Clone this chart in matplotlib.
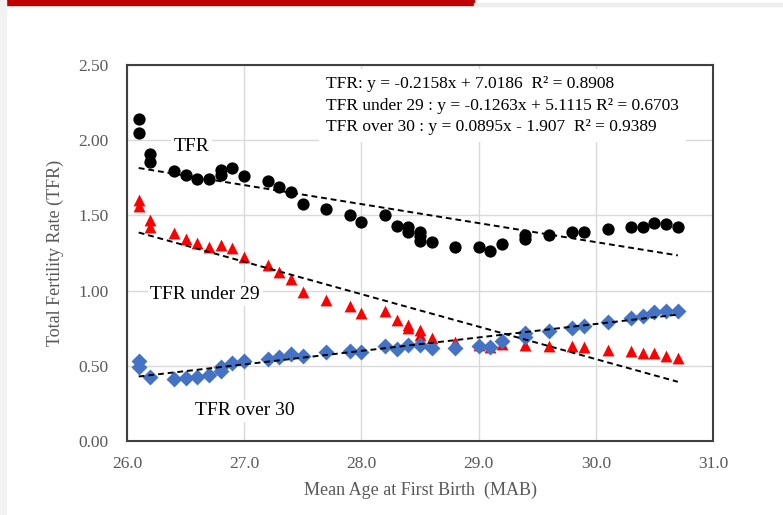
import matplotlib
matplotlib.use("Agg")
import matplotlib.pyplot as plt
from matplotlib.patches import Rectangle
import numpy as np

plt.rcParams["font.family"] = ["Liberation Serif", "DejaVu Serif"]

# ---- data ----
tfr_x = [26.1, 26.1, 26.2, 26.2, 26.4, 26.5, 26.6, 26.7, 26.8, 26.8, 26.9, 27.0,
         27.2, 27.3, 27.4, 27.5, 27.7, 27.9, 28.0, 28.2, 28.3, 28.4, 28.4,
         28.5, 28.5, 28.5, 28.6, 28.8, 29.0, 29.1, 29.2, 29.4, 29.4, 29.6,
         29.8, 29.9, 30.1, 30.3, 30.4, 30.5, 30.6, 30.7]
tfr_y = [2.14, 2.05, 1.91, 1.855, 1.795, 1.77, 1.74, 1.74, 1.80, 1.77, 1.815, 1.76,
         1.73, 1.69, 1.655, 1.575, 1.54, 1.50, 1.455, 1.50, 1.43, 1.42, 1.39,
         1.39, 1.36, 1.33, 1.32, 1.29, 1.29, 1.26, 1.31, 1.37, 1.34, 1.37,
         1.39, 1.39, 1.41, 1.42, 1.42, 1.45, 1.44, 1.42]

u29_x = [26.1, 26.1, 26.2, 26.2, 26.4, 26.5, 26.6, 26.7, 26.8, 26.9, 27.0,
         27.2, 27.3, 27.4, 27.5, 27.7, 27.9, 28.0, 28.2, 28.3, 28.4, 28.4,
         28.5, 28.5, 28.6, 28.8, 29.0, 29.1, 29.2, 29.4, 29.6, 29.8, 29.9,
         30.1, 30.3, 30.4, 30.5, 30.6, 30.7]
u29_y = [1.60, 1.56, 1.47, 1.42, 1.38, 1.345, 1.315, 1.29, 1.30, 1.285, 1.225,
         1.17, 1.125, 1.075, 0.99, 0.94, 0.90, 0.85, 0.865, 0.805, 0.77, 0.75,
         0.74, 0.705, 0.685, 0.66, 0.64, 0.625, 0.645, 0.64, 0.63, 0.63, 0.625,
         0.605, 0.60, 0.585, 0.585, 0.565, 0.55]

o30_x = [26.1, 26.1, 26.2, 26.4, 26.5, 26.6, 26.7, 26.8, 26.8, 26.9, 27.0,
         27.2, 27.3, 27.4, 27.5, 27.7, 27.9, 28.0, 28.2, 28.3, 28.4, 28.5,
         28.6, 28.8, 29.0, 29.1, 29.2, 29.4, 29.4, 29.6, 29.8, 29.9, 30.1,
         30.3, 30.4, 30.5, 30.6, 30.7]
o30_y = [0.53, 0.49, 0.425, 0.41, 0.42, 0.425, 0.44, 0.49, 0.465, 0.52, 0.53,
         0.545, 0.56, 0.58, 0.565, 0.59, 0.60, 0.59, 0.63, 0.61, 0.64, 0.64,
         0.62, 0.62, 0.63, 0.625, 0.665, 0.72, 0.69, 0.73, 0.75, 0.765, 0.79,
         0.815, 0.83, 0.86, 0.865, 0.865]

# trend lines as drawn (coefficients from the equation box)
trend_slope = {"TFR": -0.1263, "under": -0.2158, "over": 0.0895}
trend_icpt = {"TFR": 5.1115, "under": 7.0186, "over": -1.907}
trend_span = [26.1, 30.7]

eq_lines = [
    "TFR: y = -0.2158x + 7.0186  R\u00b2 = 0.8908",
    "TFR under 29 : y = -0.1263x + 5.1115 R\u00b2 = 0.6703",
    "TFR over 30 : y = 0.0895x - 1.907  R\u00b2 = 0.9389",
]
x_ticks = [26.0, 27.0, 28.0, 29.0, 30.0, 31.0]
y_ticks = [0.0, 0.5, 1.0, 1.5, 2.0, 2.5]

fig = plt.figure(figsize=(7.83, 5.15), dpi=100)
ax = fig.add_axes([127 / 783, 1 - 441 / 515, 586 / 783, 376 / 515])

# slide decoration
fig.patches.append(Rectangle((0, 1 - 5 / 515), 474 / 783, 5 / 515,
                             transform=fig.transFigure, color="#c00000", zorder=0))
fig.patches.append(Rectangle((474 / 783, 1 - 6 / 515), 309 / 783, 3 / 515,
                             transform=fig.transFigure, color="#eeeeee", zorder=0))
fig.patches.append(Rectangle((0, 0), 6 / 783, 1,
                             transform=fig.transFigure, color="#f2f2f2", zorder=0))

ax.scatter(tfr_x, tfr_y, s=78, marker="o", color="black", zorder=3, linewidths=0)
ax.scatter(u29_x, u29_y, s=72, marker="^", color="#ff0000", zorder=3, linewidths=0)
ax.scatter(o30_x, o30_y, s=66, marker="D", color="#4472c4", zorder=4, linewidths=0)

xs = np.array(trend_span)
for k in ["TFR", "under", "over"]:
    ax.plot(xs, trend_slope[k] * xs + trend_icpt[k], ls=(0, (3, 2)),
            color="black", lw=1.4, zorder=5)

ax.set_xlim(26.0, 31.0)
ax.set_ylim(0.0, 2.5)
ax.set_xticks(x_ticks)
ax.set_yticks(y_ticks)
ax.set_xticklabels([f"{v:.1f}" for v in x_ticks])
ax.set_yticklabels([f"{v:.2f}" for v in y_ticks])
ax.tick_params(axis="y", length=0, labelsize=12.5, labelcolor="#595959", pad=13.5)
ax.tick_params(axis="x", length=0, labelsize=12.5, labelcolor="#595959", pad=11)
ax.grid(True, color="#d9d9d9", lw=1.0, zorder=0)
ax.set_axisbelow(True)
for sp in ax.spines.values():
    sp.set_color("#404040")
    sp.set_linewidth(1.5)

ax.set_xlabel("Mean Age at First Birth  (MAB)", fontsize=13, color="#595959", labelpad=7)
ax.set_ylabel("Total Fertility Rate (TFR)", fontsize=13, color="#595959", labelpad=10)

bg = dict(facecolor="white", edgecolor="none", pad=2)
ax.text(26.4, 1.96, "TFR", fontsize=14, ha="left", va="center", zorder=2, bbox=bg)
ax.text(26.2, 0.975, "TFR under 29", fontsize=14, ha="left", va="center", zorder=2, bbox=bg)
ax.text(26.58, 0.2, "TFR over 30", fontsize=14, ha="left", va="center", zorder=2, bbox=bg)

ax.text(0.34, 0.97, "\n".join(eq_lines), transform=ax.transAxes, fontsize=12.5,
        ha="left", va="top", linespacing=1.45, zorder=2,
        bbox=dict(facecolor="white", edgecolor="none", pad=5))

fig.savefig("out.png", dpi=100)
